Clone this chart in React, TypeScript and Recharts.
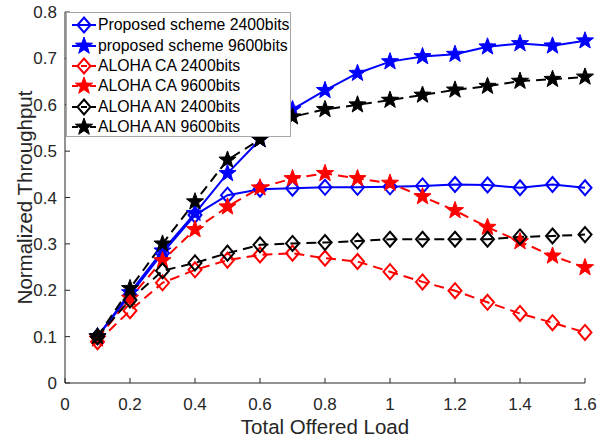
import React from 'react';
import { LineChart, Line, XAxis, YAxis, Legend } from 'recharts';

// Offered load (x) and normalized throughput per scheme
const loads = [0.1, 0.2, 0.3, 0.4, 0.5, 0.6, 0.7, 0.8, 0.9, 1.0, 1.1, 1.2, 1.3, 1.4, 1.5, 1.6];

const proposed2400 = [0.1, 0.19, 0.28, 0.362, 0.405, 0.418, 0.42, 0.422, 0.422, 0.423, 0.425, 0.428, 0.427, 0.421, 0.428, 0.421];
const proposed9600 = [0.1, 0.195, 0.285, 0.366, 0.452, 0.525, 0.59, 0.631, 0.668, 0.693, 0.704, 0.709, 0.725, 0.732, 0.727, 0.738];
const alohaCA2400 = [0.089, 0.156, 0.216, 0.244, 0.265, 0.276, 0.28, 0.269, 0.262, 0.24, 0.218, 0.199, 0.174, 0.15, 0.13, 0.109];
const alohaCA9600 = [0.095, 0.183, 0.264, 0.331, 0.38, 0.421, 0.441, 0.452, 0.441, 0.431, 0.402, 0.372, 0.336, 0.305, 0.274, 0.249];
const alohaAN2400 = [0.1, 0.179, 0.242, 0.259, 0.28, 0.298, 0.301, 0.303, 0.306, 0.31, 0.31, 0.31, 0.31, 0.315, 0.317, 0.32];
const alohaAN9600 = [0.1, 0.204, 0.3, 0.391, 0.481, 0.525, 0.574, 0.59, 0.6, 0.61, 0.621, 0.632, 0.64, 0.651, 0.655, 0.66];

const xTicks = [0, 0.2, 0.4, 0.6, 0.8, 1, 1.2, 1.4, 1.6];
const yTicks = [0, 0.1, 0.2, 0.3, 0.4, 0.5, 0.6, 0.7, 0.8];

const FONT = '"Liberation Sans", Arial, Helvetica, sans-serif';
const AXIS_COLOR = '#262626';

type MarkerKind = 'diamond' | 'star';

interface SeriesDef {
  key: string;
  name: string;
  color: string;
  dashed: boolean;
  marker: MarkerKind;
  values: number[];
}

const seriesDefs: SeriesDef[] = [
  { key: 'p2400', name: 'Proposed scheme 2400bits', color: '#0000ff', dashed: false, marker: 'diamond', values: proposed2400 },
  { key: 'p9600', name: 'proposed scheme 9600bits', color: '#0000ff', dashed: false, marker: 'star', values: proposed9600 },
  { key: 'ca2400', name: 'ALOHA CA 2400bits', color: '#ff0000', dashed: true, marker: 'diamond', values: alohaCA2400 },
  { key: 'ca9600', name: 'ALOHA CA 9600bits', color: '#ff0000', dashed: true, marker: 'star', values: alohaCA9600 },
  { key: 'an2400', name: 'ALOHA AN 2400bits', color: '#000000', dashed: true, marker: 'diamond', values: alohaAN2400 },
  { key: 'an9600', name: 'ALOHA AN 9600bits', color: '#000000', dashed: true, marker: 'star', values: alohaAN9600 },
];

const rows = loads.map((load, i) => {
  const row: Record<string, number> = { load };
  seriesDefs.forEach((s) => {
    row[s.key] = s.values[i];
  });
  return row;
});

const DASH = '10 6';

function starPath(cx: number, cy: number, outer: number, inner: number): string {
  const pts: string[] = [];
  for (let k = 0; k < 10; k++) {
    const r = k % 2 === 0 ? outer : inner;
    const a = -Math.PI / 2 + (k * Math.PI) / 5;
    pts.push(`${(cx + r * Math.cos(a)).toFixed(2)},${(cy + r * Math.sin(a)).toFixed(2)}`);
  }
  return `M${pts.join('L')}Z`;
}

function MarkerShape({ kind, cx, cy, color }: { kind: MarkerKind; cx: number; cy: number; color: string }) {
  if (kind === 'diamond') {
    return (
      <path
        d={`M${cx},${cy - 7.5}L${cx + 6.5},${cy}L${cx},${cy + 7.5}L${cx - 6.5},${cy}Z`}
        fill="none"
        stroke={color}
        strokeWidth={2}
      />
    );
  }
  return <path d={starPath(cx, cy, 9, 3.7)} fill={color} stroke={color} strokeWidth={1} strokeLinejoin="miter" />;
}

function LegendBox() {
  return (
    <div
      style={{
        boxSizing: 'border-box',
        width: 225,
        height: 125,
        border: '1px solid #a6a6a6',
        background: '#ffffff',
        paddingTop: 2,
        fontFamily: FONT,
        fontSize: 15.8,
        color: '#000',
      }}
    >
      {seriesDefs.map((s) => (
        <div key={s.key} style={{ display: 'flex', alignItems: 'center', height: 20.4, whiteSpace: 'nowrap' }}>
          <svg width={31} height={20} style={{ flex: 'none' }}>
            <line
              x1={5}
              x2={29}
              y1={10}
              y2={10}
              stroke={s.color}
              strokeWidth={2}
              strokeDasharray={s.dashed ? '6 3' : undefined}
            />
            <MarkerShape kind={s.marker} cx={17} cy={10} color={s.color} />
          </svg>
          <span style={{ lineHeight: '20px' }}>{s.name}</span>
        </div>
      ))}
    </div>
  );
}

const tickStyle = { fill: AXIS_COLOR, fontSize: 17, fontFamily: FONT };

function XTitle(props: any) {
  const vb = props.viewBox || { x: 65, y: 383, width: 520, height: 57 };
  return (
    <text x={vb.x + vb.width / 2} y={vb.y + 51} textAnchor="middle" fill={AXIS_COLOR} fontSize={20.5} fontFamily={FONT}>
      Total Offered Load
    </text>
  );
}

function YTitle(props: any) {
  const vb = props.viewBox || { x: 0, y: 12, width: 65, height: 371 };
  const cx = vb.x + 32;
  const cy = vb.y + vb.height / 2;
  return (
    <text
      x={cx}
      y={cy}
      transform={`rotate(-90 ${cx} ${cy})`}
      textAnchor="middle"
      fill={AXIS_COLOR}
      fontSize={20.5}
      fontFamily={FONT}
    >
      Normalized Throughput
    </text>
  );
}

export default function App() {
  return (
    <div style={{ position: 'absolute', left: 0, top: 0, width: 616, height: 440, background: '#ffffff' }}>
      <LineChart width={616} height={440} data={rows} margin={{ top: 12, right: 31, bottom: 0, left: 0 }}>
        <XAxis
          dataKey="load"
          type="number"
          domain={[0, 1.6]}
          ticks={xTicks}
          interval={0}
          height={57}
          tickSize={-5}
          tickMargin={20}
          tick={tickStyle}
          stroke={AXIS_COLOR}
          tickLine={{ stroke: AXIS_COLOR }}
          axisLine={{ stroke: AXIS_COLOR }}
          tickFormatter={(v: number) => String(v)}
          label={<XTitle />}
        />
        <XAxis
          xAxisId="top"
          orientation="top"
          dataKey="load"
          type="number"
          domain={[0, 1.6]}
          ticks={xTicks}
          interval={0}
          height={0}
          tickSize={-5}
          tick={false}
          stroke={AXIS_COLOR}
          tickLine={{ stroke: AXIS_COLOR }}
          axisLine={{ stroke: AXIS_COLOR }}
        />
        <YAxis
          type="number"
          domain={[0, 0.8]}
          ticks={yTicks}
          interval={0}
          width={65}
          tickSize={-5}
          tickMargin={13}
          tick={tickStyle}
          stroke={AXIS_COLOR}
          tickLine={{ stroke: AXIS_COLOR }}
          axisLine={{ stroke: AXIS_COLOR }}
          tickFormatter={(v: number) => String(v)}
          label={<YTitle />}
        />
        <YAxis
          yAxisId="right"
          orientation="right"
          type="number"
          domain={[0, 0.8]}
          ticks={yTicks}
          interval={0}
          width={0}
          tickSize={-5}
          tick={false}
          stroke={AXIS_COLOR}
          tickLine={{ stroke: AXIS_COLOR }}
          axisLine={{ stroke: AXIS_COLOR }}
        />
        {seriesDefs.map((s) => (
          <Line
            key={s.key}
            dataKey={s.key}
            name={s.name}
            type="linear"
            stroke={s.color}
            strokeWidth={2}
            strokeDasharray={s.dashed ? DASH : undefined}
            isAnimationActive={false}
            dot={(p: any) => <MarkerShape key={`${s.key}-${p.index}`} kind={s.marker} cx={p.cx} cy={p.cy} color={s.color} />}
            activeDot={false}
          />
        ))}
        <Legend
          layout="vertical"
          align="center"
          verticalAlign="middle"
          wrapperStyle={{ position: 'absolute', left: 66, top: 12, width: 225, height: 125 }}
          content={() => <LegendBox />}
        />
      </LineChart>
    </div>
  );
}
